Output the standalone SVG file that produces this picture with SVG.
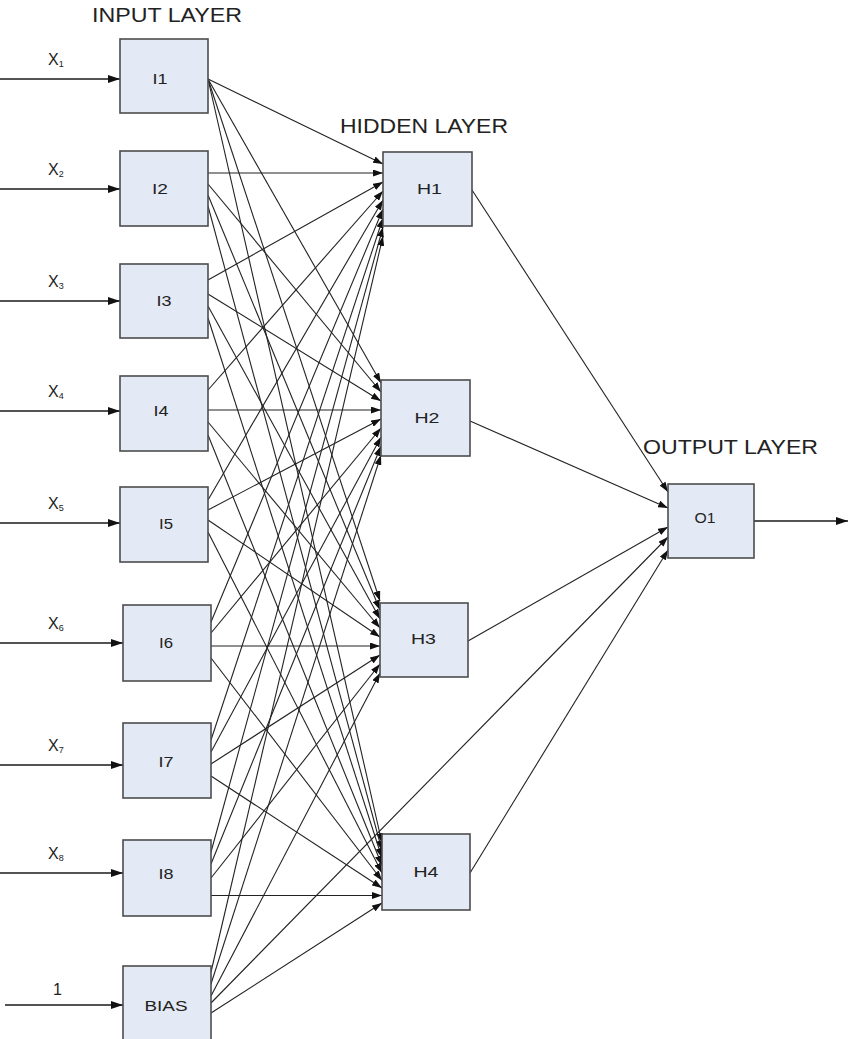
<svg xmlns="http://www.w3.org/2000/svg" width="850" height="1039" viewBox="0 0 850 1039">
<style>
.box{fill:#e4eaf5;stroke:#4d4d4d;stroke-width:1.6}
.lbl{font-family:"Liberation Sans",Arial,sans-serif;fill:#222;font-size:15.5px;text-anchor:middle}
.hdr{font-family:"Liberation Sans",Arial,sans-serif;fill:#222;font-size:20px}
.xl{font-family:"Liberation Sans",Arial,sans-serif;fill:#222;font-size:16px}
.sub{font-size:9px}
.in{stroke:#1a1a1a;stroke-width:1.6;fill:none;marker-end:url(#ahBig)}
.c{stroke:#222;stroke-width:1.1;fill:none;marker-end:url(#ah)}
</style>
<defs>
<marker id="ahBig" markerUnits="userSpaceOnUse" markerWidth="12" markerHeight="8" refX="12" refY="4" orient="auto"><path d="M0,0 L12,4 L0,8 z" fill="#111"/></marker>
<marker id="ah" markerUnits="userSpaceOnUse" markerWidth="10" markerHeight="7" refX="10" refY="3.5" orient="auto"><path d="M0,0 L10,3.5 L0,7 z" fill="#111"/></marker>
</defs>

<text class="hdr" x="92" y="22" textLength="150" lengthAdjust="spacingAndGlyphs">INPUT LAYER</text>
<text class="hdr" x="340" y="133" textLength="168" lengthAdjust="spacingAndGlyphs">HIDDEN LAYER</text>
<text class="hdr" x="643" y="454" textLength="175" lengthAdjust="spacingAndGlyphs">OUTPUT LAYER</text>

<g id="connectors">
<line class="in" x1="0" y1="79" x2="120" y2="79"/>
<line class="in" x1="0" y1="189" x2="120" y2="189"/>
<line class="in" x1="0" y1="301" x2="120" y2="301"/>
<line class="in" x1="0" y1="411" x2="120" y2="411"/>
<line class="in" x1="0" y1="523" x2="120" y2="523"/>
<line class="in" x1="0" y1="643" x2="123" y2="643"/>
<line class="in" x1="0" y1="765" x2="123" y2="765"/>
<line class="in" x1="0" y1="873" x2="123" y2="873"/>
<line class="in" x1="5" y1="1005" x2="123" y2="1005"/>
<line class="c" x1="208" y1="79" x2="383" y2="164"/>
<line class="c" x1="208" y1="79" x2="381" y2="383"/>
<line class="c" x1="208" y1="79" x2="380" y2="601"/>
<line class="c" x1="208" y1="79" x2="382" y2="843"/>
<line class="c" x1="208" y1="173" x2="383" y2="173"/>
<line class="c" x1="208" y1="184" x2="381" y2="392"/>
<line class="c" x1="208" y1="195" x2="380" y2="610"/>
<line class="c" x1="208" y1="206" x2="382" y2="850.5"/>
<line class="c" x1="208" y1="280" x2="383" y2="182"/>
<line class="c" x1="208" y1="294" x2="381" y2="401"/>
<line class="c" x1="208" y1="306" x2="380" y2="619"/>
<line class="c" x1="208" y1="318" x2="382" y2="858"/>
<line class="c" x1="208" y1="390" x2="383" y2="191"/>
<line class="c" x1="208" y1="410" x2="381" y2="410"/>
<line class="c" x1="208" y1="422" x2="380" y2="628"/>
<line class="c" x1="208" y1="435" x2="382" y2="865.5"/>
<line class="c" x1="208" y1="500" x2="383" y2="200"/>
<line class="c" x1="208" y1="510" x2="381" y2="419"/>
<line class="c" x1="208" y1="520" x2="380" y2="637"/>
<line class="c" x1="208" y1="532" x2="382" y2="873"/>
<line class="c" x1="211" y1="622" x2="383" y2="209"/>
<line class="c" x1="211" y1="633" x2="381" y2="428"/>
<line class="c" x1="211" y1="646" x2="380" y2="646"/>
<line class="c" x1="211" y1="658" x2="382" y2="880.5"/>
<line class="c" x1="211" y1="740" x2="383" y2="218"/>
<line class="c" x1="211" y1="752" x2="381" y2="437"/>
<line class="c" x1="211" y1="764" x2="380" y2="655"/>
<line class="c" x1="211" y1="776" x2="382" y2="888"/>
<line class="c" x1="211" y1="852" x2="383" y2="227"/>
<line class="c" x1="211" y1="864" x2="381" y2="446"/>
<line class="c" x1="211" y1="878" x2="380" y2="664"/>
<line class="c" x1="211" y1="895.5" x2="382" y2="895.5"/>
<line class="c" x1="211" y1="972" x2="383" y2="236"/>
<line class="c" x1="211" y1="984" x2="381" y2="455"/>
<line class="c" x1="211" y1="996" x2="380" y2="673"/>
<line class="c" x1="211" y1="1013" x2="382" y2="903"/>
<line class="c" x1="211" y1="1003" x2="668" y2="537"/>
<line class="c" x1="472" y1="190" x2="668" y2="492"/>
<line class="c" x1="470" y1="421" x2="668" y2="508"/>
<line class="c" x1="468" y1="641" x2="668" y2="527"/>
<line class="c" x1="470" y1="873" x2="668" y2="550"/>
<line class="in" x1="754" y1="521" x2="848" y2="521"/>
</g>

<g id="x-labels">
<text class="xl" x="48" y="65">X<tspan class="sub" dy="2">1</tspan></text>
<text class="xl" x="48" y="175">X<tspan class="sub" dy="2">2</tspan></text>
<text class="xl" x="48" y="287">X<tspan class="sub" dy="2">3</tspan></text>
<text class="xl" x="48" y="397">X<tspan class="sub" dy="2">4</tspan></text>
<text class="xl" x="48" y="509">X<tspan class="sub" dy="2">5</tspan></text>
<text class="xl" x="48" y="629">X<tspan class="sub" dy="2">6</tspan></text>
<text class="xl" x="48" y="751">X<tspan class="sub" dy="2">7</tspan></text>
<text class="xl" x="48" y="859">X<tspan class="sub" dy="2">8</tspan></text>
<text class="xl" x="53" y="995">1</text>
</g>

<g id="I1"><rect class="box" x="120" y="39" width="88" height="74"/><text class="lbl" x="160" y="84" textLength="15" lengthAdjust="spacingAndGlyphs">I1</text></g>
<g id="I2"><rect class="box" x="120" y="151" width="88" height="75"/><text class="lbl" x="160" y="194" textLength="16" lengthAdjust="spacingAndGlyphs">I2</text></g>
<g id="I3"><rect class="box" x="120" y="264" width="88" height="74"/><text class="lbl" x="164" y="306" textLength="15" lengthAdjust="spacingAndGlyphs">I3</text></g>
<g id="I4"><rect class="box" x="120" y="376" width="88" height="75"/><text class="lbl" x="161" y="416" textLength="15" lengthAdjust="spacingAndGlyphs">I4</text></g>
<g id="I5"><rect class="box" x="120" y="487" width="88" height="75"/><text class="lbl" x="166" y="529" textLength="14" lengthAdjust="spacingAndGlyphs">I5</text></g>
<g id="I6"><rect class="box" x="123" y="605" width="88" height="76"/><text class="lbl" x="166" y="648" textLength="14" lengthAdjust="spacingAndGlyphs">I6</text></g>
<g id="I7"><rect class="box" x="123" y="723" width="88" height="75"/><text class="lbl" x="166" y="767" textLength="15" lengthAdjust="spacingAndGlyphs">I7</text></g>
<g id="I8"><rect class="box" x="123" y="840" width="88" height="76"/><text class="lbl" x="166" y="879" textLength="15" lengthAdjust="spacingAndGlyphs">I8</text></g>
<g id="BIAS"><rect class="box" x="123" y="966" width="88" height="80"/><text class="lbl" x="166" y="1011" font-size="16" textLength="43" lengthAdjust="spacingAndGlyphs">BIAS</text></g>

<g id="H1"><rect class="box" x="383" y="152" width="89" height="74"/><text class="lbl" x="429.5" y="194" textLength="25" lengthAdjust="spacingAndGlyphs">H1</text></g>
<g id="H2"><rect class="box" x="381" y="380" width="89" height="76"/><text class="lbl" x="427" y="423" textLength="25" lengthAdjust="spacingAndGlyphs">H2</text></g>
<g id="H3"><rect class="box" x="380" y="603" width="88" height="74"/><text class="lbl" x="423.5" y="644" textLength="25" lengthAdjust="spacingAndGlyphs">H3</text></g>
<g id="H4"><rect class="box" x="382" y="834" width="88" height="76"/><text class="lbl" x="426" y="877" textLength="25" lengthAdjust="spacingAndGlyphs">H4</text></g>

<g id="O1"><rect class="box" x="668" y="484" width="86" height="74"/><text class="lbl" x="705" y="523" textLength="21" lengthAdjust="spacingAndGlyphs">O1</text></g>
</svg>
